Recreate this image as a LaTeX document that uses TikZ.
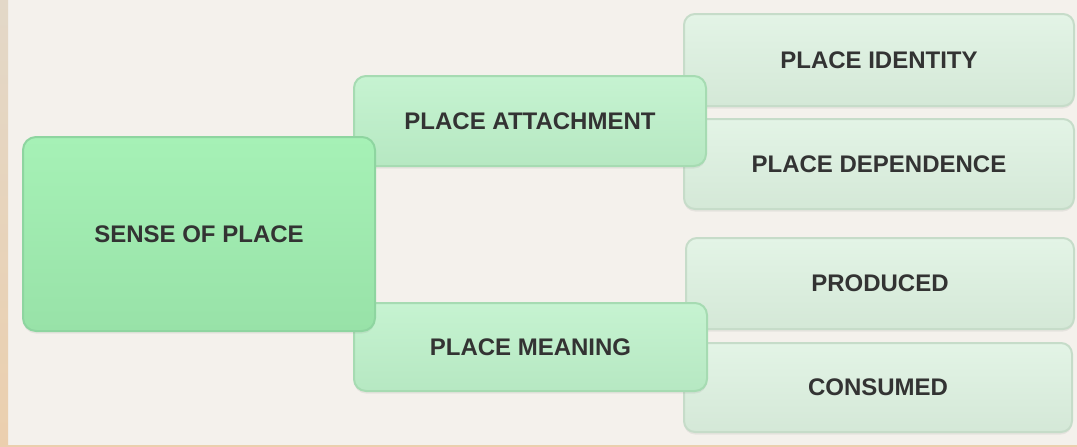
\documentclass[tikz,border=0pt]{standalone}
\usepackage{fontspec}
\setmainfont{Liberation Sans}
\usetikzlibrary{shadows}
\definecolor{bgmain}{HTML}{F4F1EC}
\definecolor{stripA}{HTML}{E3D8C8}
\definecolor{stripB}{HTML}{F5DFC0}
\definecolor{stripC}{HTML}{EBCFAE}
\definecolor{txt}{HTML}{333333}
\definecolor{rootTop}{HTML}{A6F1B6}
\definecolor{rootMid}{HTML}{B0F6C0}
\definecolor{rootBot}{HTML}{98E2A8}
\definecolor{rootLine}{HTML}{8ED5A0}
\definecolor{midTop}{HTML}{C6F3D1}
\definecolor{midMid}{HTML}{C8F4D2}
\definecolor{midBot}{HTML}{B6E8C2}
\definecolor{midLine}{HTML}{A6DBB2}
\definecolor{leafTop}{HTML}{E3F4E6}
\definecolor{leafMid}{HTML}{E2F3E5}
\definecolor{leafBot}{HTML}{D4E8D7}
\definecolor{leafLine}{HTML}{C6DCC9}
\tikzset{
  box/.style={rectangle, line width=2pt, text=txt,
    font=\fontsize{24}{28}\selectfont\bfseries, align=center,
    drop shadow={opacity=0.12, shadow xshift=0pt, shadow yshift=-2.5pt}},
  rootbox/.style={box, rounded corners=13pt, draw=rootLine,
    top color=rootTop, middle color=rootMid, bottom color=rootBot},
  midbox/.style={box, rounded corners=12pt, draw=midLine,
    top color=midTop, middle color=midMid, bottom color=midBot},
  leafbox/.style={box, rounded corners=11pt, draw=leafLine,
    top color=leafTop, middle color=leafMid, bottom color=leafBot},
}
\begin{document}
\begin{tikzpicture}[x=1pt,y=-1pt]
\useasboundingbox (0,0) rectangle (1077,447);
\fill[bgmain] (0,0) rectangle (1077,447);
\shade[top color=stripA, middle color=stripB, bottom color=stripC] (0,0) rectangle (8,447);
\fill[stripC] (8,445) rectangle (1077,447);
% leaves
\node[leafbox, minimum width=390pt, minimum height=92pt] (identity) at (879,60) {PLACE IDENTITY};
\node[leafbox, minimum width=390pt, minimum height=90pt] (dependence) at (879,164) {PLACE DEPENDENCE};
\node[leafbox, minimum width=388pt, minimum height=91pt] (produced) at (880,283.5) {PRODUCED};
\node[leafbox, minimum width=388pt, minimum height=89pt] (consumed) at (878,387.5) {CONSUMED};
% middle
\node[midbox, minimum width=352pt, minimum height=90pt] (attachment) at (530,121) {PLACE ATTACHMENT};
\node[midbox, minimum width=353pt, minimum height=88pt] (meaning) at (530.5,347) {PLACE MEANING};
% root
\node[rootbox, minimum width=352pt, minimum height=194pt] (sense) at (199,234) {SENSE OF PLACE};
\end{tikzpicture}
\end{document}
